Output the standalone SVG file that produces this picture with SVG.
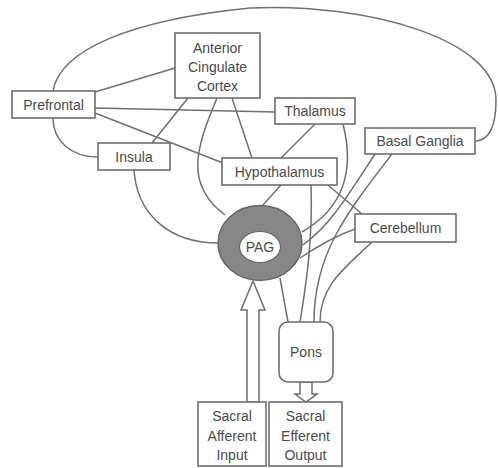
<svg xmlns="http://www.w3.org/2000/svg" width="498" height="468" viewBox="0 0 498 468">
  <style>
    .box { fill: #fff; stroke: #6e6e6e; stroke-width: 1.6; }
    .lbl { font-family: "Liberation Sans", Arial, sans-serif; font-size: 14px; fill: #4a4a4a; text-anchor: middle; }
    .edge { fill: none; stroke: #707070; stroke-width: 1.5; }
    .hollow { fill: #fff; stroke: #6e6e6e; stroke-width: 1.5; stroke-linejoin: miter; }
  </style>
  <rect width="498" height="468" fill="#fff"/>

  <!-- connectors -->
  <g id="connectors">
    <!-- long loop Prefrontal to Basal Ganglia -->
    <path class="edge" d="M 53 91 C 60 50, 130 20, 250 8 C 370 3, 496 40, 496 100 C 496 125, 490 140, 476 141"/>
    <path class="edge" d="M 95 92 L 175 68"/>
    <path class="edge" d="M 95 108 L 275 112"/>
    <path class="edge" d="M 95 113 L 223 163"/>
    <path class="edge" d="M 53 118 C 53 140, 70 157, 98 157"/>
    <path class="edge" d="M 188 98 L 152 143"/>
    <path class="edge" d="M 217 98 C 195 150, 185 185, 225 215"/>
    <path class="edge" d="M 232 98 L 252 158"/>
    <path class="edge" d="M 134 170 C 137 215, 170 243, 218 243"/>
    <path class="edge" d="M 315 124 L 281 158"/>
    <path class="edge" d="M 343 124 C 356 175, 340 210, 302 232"/>
    <path class="edge" d="M 375 154 C 345 200, 330 225, 303 245"/>
    <path class="edge" d="M 392 154 C 345 215, 314 255, 314 322"/>
    <path class="edge" d="M 281 185 L 262 206"/>
    <path class="edge" d="M 328 185 L 362 214"/>
    <path class="edge" d="M 311 185 C 313 240, 306 285, 300 322"/>
    <path class="edge" d="M 355 229 C 335 236, 315 248, 300 258"/>
    <path class="edge" d="M 372 242 C 345 268, 320 285, 320 322"/>
    <path class="edge" d="M 280 278 L 288 322"/>
    <!-- hollow arrow: afferent input up to PAG -->
    <polygon class="hollow" points="247,402 247,310 241,310 253,281 265,310 259,310 259,402"/>
    <!-- hollow arrow: Pons down to efferent output -->
    <polygon class="hollow" points="300,382 300,394 295,394 306,402 317,394 312,394 312,382"/>
  </g>

  <g id="acc">
    <rect class="box" x="175" y="33" width="85" height="65"/>
    <text class="lbl" x="217.5" y="53">Anterior</text>
    <text class="lbl" x="217.5" y="72">Cingulate</text>
    <text class="lbl" x="217.5" y="91">Cortex</text>
  </g>
  <g id="prefrontal">
    <rect class="box" x="12" y="91" width="83" height="27"/>
    <text class="lbl" x="53.5" y="109.5">Prefrontal</text>
  </g>
  <g id="insula">
    <rect class="box" x="98" y="143" width="72" height="27"/>
    <text class="lbl" x="134" y="161.5">Insula</text>
  </g>
  <g id="thalamus">
    <rect class="box" x="275" y="98" width="80" height="26"/>
    <text class="lbl" x="315" y="116">Thalamus</text>
  </g>
  <g id="basal-ganglia">
    <rect class="box" x="365" y="128" width="110" height="26"/>
    <text class="lbl" x="420" y="146">Basal Ganglia</text>
  </g>
  <g id="hypothalamus">
    <rect class="box" x="222" y="158" width="115" height="27"/>
    <text class="lbl" x="279.5" y="176.5">Hypothalamus</text>
  </g>
  <g id="cerebellum">
    <rect class="box" x="355" y="214" width="101" height="28"/>
    <text class="lbl" x="405.5" y="233">Cerebellum</text>
  </g>
  <g id="pag">
    <ellipse cx="260" cy="243" rx="42" ry="37.5" fill="#878787" stroke="#666" stroke-width="1.5"/>
    <ellipse cx="260" cy="247" rx="20.5" ry="15.5" fill="#fff" stroke="#666" stroke-width="1.2"/>
    <text class="lbl" x="260" y="252">PAG</text>
  </g>
  <g id="pons">
    <rect class="box" x="279" y="322" width="54" height="60" rx="9" ry="9"/>
    <text class="lbl" x="306" y="357">Pons</text>
  </g>
  <g id="sacral-afferent">
    <rect class="box" x="198" y="402" width="68" height="64"/>
    <text class="lbl" x="232" y="421">Sacral</text>
    <text class="lbl" x="232" y="441">Afferent</text>
    <text class="lbl" x="232" y="460">Input</text>
  </g>
  <g id="sacral-efferent">
    <rect class="box" x="269" y="402" width="73" height="64"/>
    <text class="lbl" x="305.5" y="421">Sacral</text>
    <text class="lbl" x="305.5" y="441">Efferent</text>
    <text class="lbl" x="305.5" y="460">Output</text>
  </g>
</svg>
